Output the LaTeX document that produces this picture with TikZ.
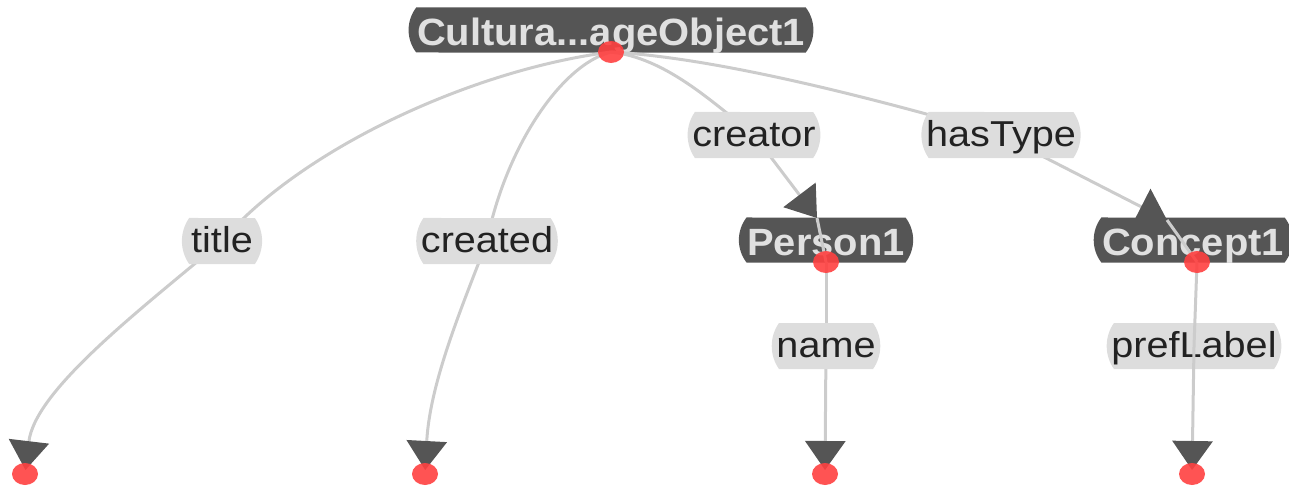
\documentclass[tikz,border=0pt]{standalone}
\usepackage{fontspec}
\setmainfont{Liberation Sans}
\newfontfamily\resfont[FakeStretch=1.05]{Liberation Sans}
\newfontfamily\propfont[FakeStretch=1.1]{Liberation Sans}
\usetikzlibrary{arrows.meta,shapes.misc,shapes.geometric}
\definecolor{nodegray}{HTML}{555555}
\definecolor{nodetext}{HTML}{E0E0E0}
\definecolor{labelgray}{HTML}{DDDDDD}
\definecolor{labeltext}{HTML}{222222}
\definecolor{edgegray}{HTML}{CCCCCC}
\definecolor{arrowgray}{HTML}{555555}
\definecolor{dotred}{HTML}{FF4040}
\pgfdeclarelayer{labels}
\pgfdeclarelayer{over}
\pgfdeclarelayer{top}
\pgfsetlayers{main,labels,over,top}

\begin{document}
\begin{tikzpicture}[x=1pt,y=-1pt,
  resource/.style={rounded rectangle, rounded rectangle arc length=75,
    fill=nodegray, text=nodetext, font=\fontsize{38}{40}\resfont\bfseries,
    minimum height=45pt, inner xsep=5pt, inner ysep=0pt,
    text height=31pt, text depth=0pt},
  prop/.style={rounded rectangle, rounded rectangle arc length=70,
    fill=labelgray, text=labeltext, font=\fontsize{36}{40}\propfont,
    minimum height=46pt, inner xsep=3pt, inner ysep=0pt,
    text height=23.5pt, text depth=0pt},
  anchordot/.style={ellipse, fill=dotred, fill opacity=0.9,
    minimum width=26pt, minimum height=22pt, inner sep=0pt},
  edge/.style={draw=edgegray, line width=3pt},
  tip/.style={-{Triangle[width=40pt,length=29pt,color=arrowgray,fill=arrowgray]}},
  leaftip/.style={tip, shorten >=4pt}]
\useasboundingbox (0,0) rectangle (1289,487);

% resource nodes
\node[resource] (obj) at (611,30) {Cultura...ageObject1};
\node[resource] (person) at (826,240) {Person1};
\node[resource] (concept) at (1193,240) {Concept1};

% anchor dots
\begin{pgfonlayer}{top}
\node[anchordot] (objdot) at (611,52) {};
\node[anchordot] (persondot) at (826,262) {};
\node[anchordot] (conceptdot) at (1197,262) {};
\node[anchordot] (leafa) at (25,474) {};
\node[anchordot] (leafb) at (425,474) {};
\node[anchordot] (leafc) at (825,474) {};
\node[anchordot] (leafd) at (1192,474) {};
\end{pgfonlayer}

% property labels
\begin{pgfonlayer}{labels}
\node[prop] (title) at (222,241) {title};
\node[prop] (created) at (487,241) {created};
\node[prop] (creator) at (754,135) {creator};
\node[prop] (hastype) at (1001,135) {hasType};
\node[prop] (name) at (826,346) {name};
\node[prop] (preflabel) at (1194,346) {prefLabel};
\end{pgfonlayer}

\coordinate (personin) at (817,218);
\coordinate (conceptin) at (1167,220);

% connectors
\draw[edge] (objdot.center) .. controls (470,70) and (300,150) .. (title.center);
\draw[edge,leaftip] (title.center) .. controls (140,310) and (35,390) .. (leafa.center);
\draw[edge] (objdot.center) .. controls (560,65) and (505,150) .. (created.center);
\draw[edge,leaftip] (created.center) .. controls (465,300) and (430,380) .. (leafb.center);
\draw[edge] (objdot.center) .. controls (665,58) and (710,100) .. (creator.center);
\draw[edge,tip] (creator.center) -- (personin);
\draw[edge] (personin) -- (persondot.center);
\draw[edge] (objdot.center) .. controls (720,58) and (880,100) .. (hastype.center);
\draw[edge,tip] (hastype.center) -- (conceptin);
\draw[edge] (conceptin) -- (conceptdot.center);
\draw[edge] (persondot.center) -- (name.center);
\draw[edge,leaftip] (name.center) -- (leafc.center);
\begin{pgfonlayer}{over}
\draw[edge] (conceptdot.center) -- (preflabel.center);
\draw[edge,leaftip] (preflabel.center) -- (leafd.center);
\end{pgfonlayer}
\end{tikzpicture}
\end{document}
